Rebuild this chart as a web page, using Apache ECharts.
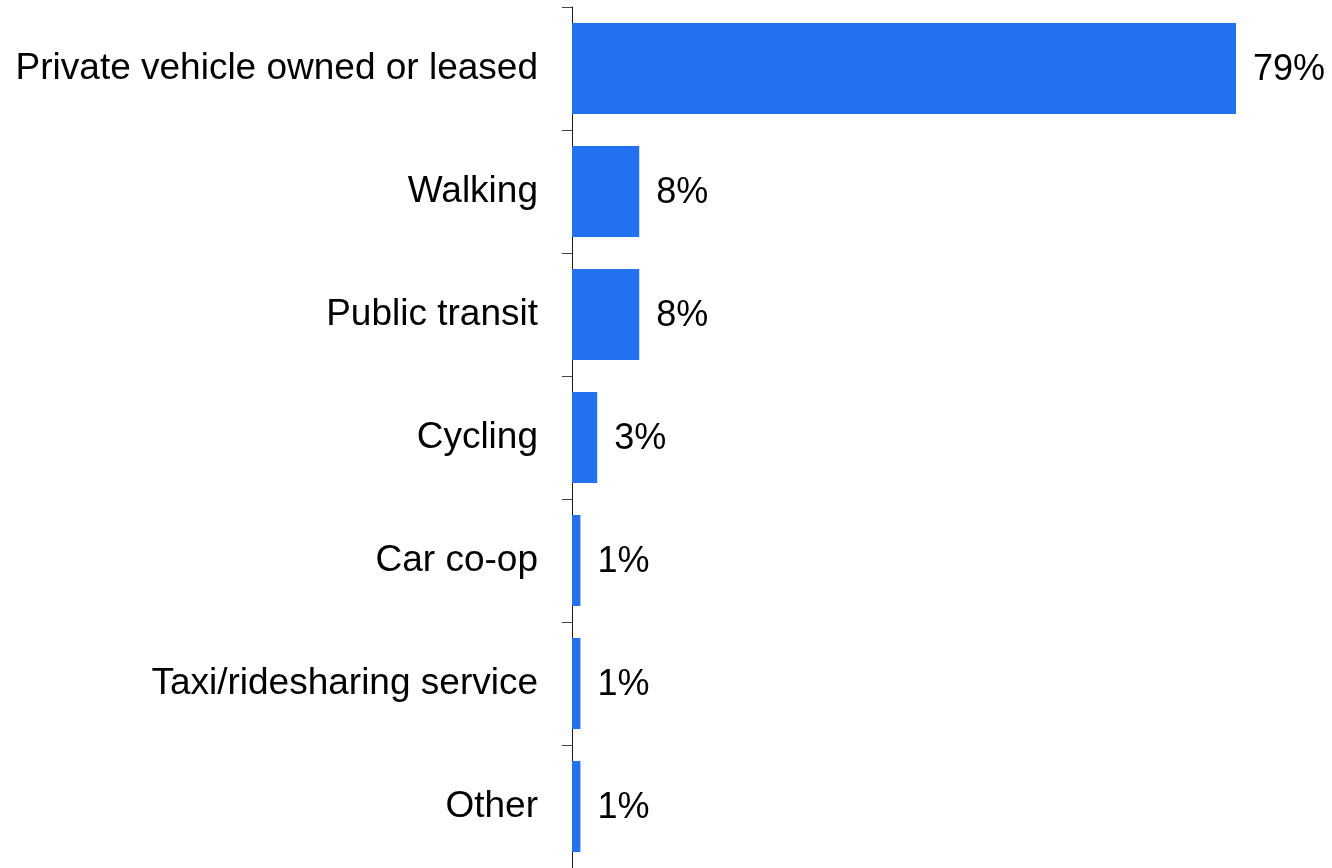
<!DOCTYPE html>
<html>
<head>
<meta charset="utf-8">
<script src="https://cdn.jsdelivr.net/npm/echarts@6/dist/echarts.min.js"></script>
<style>
  html, body { margin: 0; padding: 0; background: #ffffff; }
  #chart { width: 1332px; height: 868px; }
</style>
</head>
<body>
<div id="chart"></div>
<script>
// Primary mode of transportation, share of respondents (%)
const categories = [
  'Private vehicle owned or leased',
  'Walking',
  'Public transit',
  'Cycling',
  'Car co-op',
  'Taxi/ridesharing service',
  'Other'
];
const shares = [79, 8, 8, 3, 1, 1, 1];

const chart = echarts.init(document.getElementById('chart'), null, { renderer: 'canvas' });

chart.setOption({
  animation: false,
  backgroundColor: '#ffffff',
  grid: { left: 572, right: 96, top: 7, bottom: -3, containLabel: false },
  xAxis: {
    type: 'value',
    min: 0,
    max: 79,
    show: false
  },
  yAxis: {
    type: 'category',
    data: categories,
    inverse: true,
    axisLine: { show: true, lineStyle: { color: '#1a1a1a', width: 1 } },
    axisTick: { show: true, length: 10, lineStyle: { color: '#444444', width: 1 } },
    axisLabel: {
      margin: 34,
      color: '#000000',
      fontFamily: 'Liberation Sans, Arial, sans-serif',
      fontSize: 37
    },
    splitLine: { show: false }
  },
  series: [{
    type: 'bar',
    data: shares,
    barCategoryGap: '26%',
    itemStyle: { color: '#2371ee' },
    label: {
      show: true,
      position: 'right',
      distance: 17,
      offset: [0, 2],
      formatter: '{c}%',
      color: '#000000',
      fontFamily: 'Liberation Sans, Arial, sans-serif',
      fontSize: 36
    }
  }]
});
</script>
</body>
</html>
